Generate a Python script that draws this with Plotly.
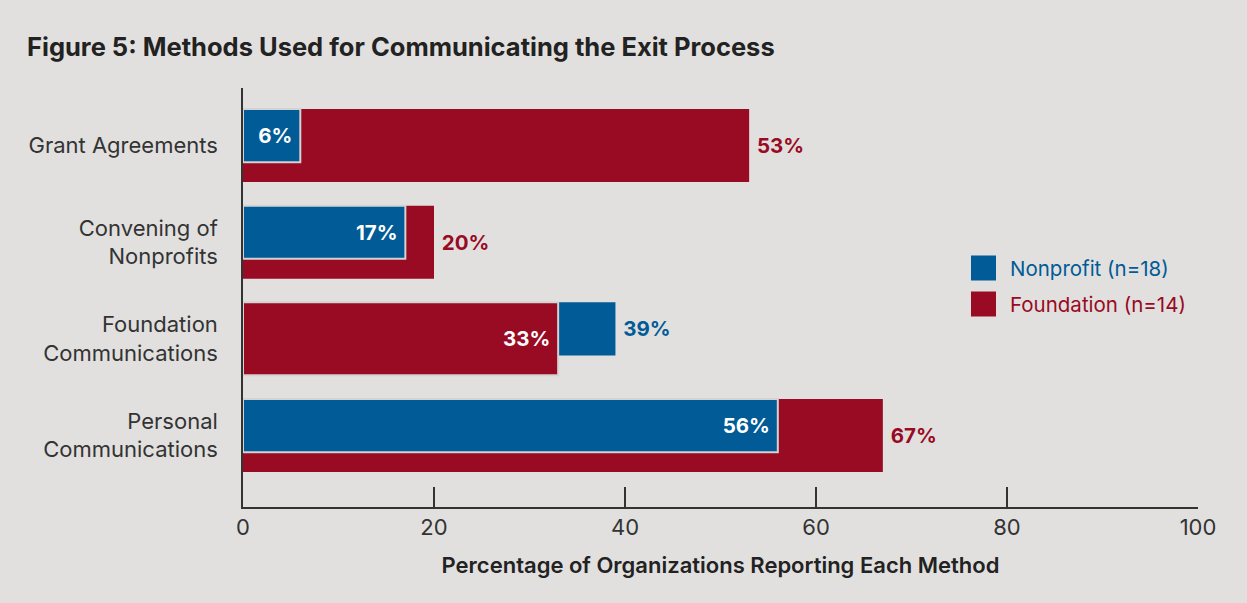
import plotly.graph_objects as go

# Survey results: share of organizations reporting each exit-communication method
categories = ["Grant Agreements", "Convening of<br>Nonprofits",
              "Foundation<br>Communications", "Personal<br>Communications"]
nonprofit = [6, 17, 39, 56]
foundation = [53, 20, 33, 67]
x_ticks = [0, 20, 40, 60, 80, 100]

BLUE = "#005b96"
RED = "#990a23"
BG = "#e1e0df"
INK = "#333333"
FONT = "Inter"
NBSP = "\u00a0"

WIDE_W, NARROW_W = 0.755, 0.55
OFFSET = -0.3775

# The shorter bar of each pair sits in front and carries its label inside;
# the longer one sits behind with its label outside the bar end.
np_front = [n < f for n, f in zip(nonprofit, foundation)]


def pick(vals, mask):
    return [v if m else None for v, m in zip(vals, mask)]


def labels(vals, mask, inside):
    pad = NBSP
    return [((f"{v}%" + pad) if inside else (pad + f"{v}%")) if m else ""
            for v, m in zip(vals, mask)]


np_back_mask = [not m for m in np_front]
fd_back_mask = np_front
fd_front_mask = np_back_mask
np_front_mask = np_front

fig = go.Figure()

common = dict(orientation="h", y=categories, hoverinfo="skip",
              showlegend=False, textangle=0, cliponaxis=False,
              constraintext="none")
VAL_SIZE = 20.5

# back layer
fig.add_trace(go.Bar(x=pick(nonprofit, np_back_mask), width=NARROW_W, offset=OFFSET,
                     marker=dict(color=BLUE, line=dict(width=0)),
                     text=labels(nonprofit, np_back_mask, False), textposition="outside",
                     outsidetextfont=dict(color=BLUE, size=VAL_SIZE, family=FONT, weight="bold"),
                     **common))
fig.add_trace(go.Bar(x=pick(foundation, fd_back_mask), width=WIDE_W, offset=OFFSET,
                     marker=dict(color=RED, line=dict(width=0)),
                     text=labels(foundation, fd_back_mask, False), textposition="outside",
                     outsidetextfont=dict(color=RED, size=VAL_SIZE, family=FONT, weight="bold"),
                     **common))
# front layer
fig.add_trace(go.Bar(x=pick(foundation, fd_front_mask), width=WIDE_W, offset=OFFSET,
                     marker=dict(color=RED, line=dict(width=2, color="#d4d3d2")),
                     text=labels(foundation, fd_front_mask, True), textposition="inside",
                     insidetextanchor="end",
                     insidetextfont=dict(color="white", size=VAL_SIZE, family=FONT, weight="bold"),
                     **common))
fig.add_trace(go.Bar(x=pick(nonprofit, np_front_mask), width=NARROW_W, offset=OFFSET,
                     marker=dict(color=BLUE, line=dict(width=2, color="#d4d3d2")),
                     text=labels(nonprofit, np_front_mask, True), textposition="inside",
                     insidetextanchor="end",
                     insidetextfont=dict(color="white", size=VAL_SIZE, family=FONT, weight="bold"),
                     **common))

# plot area in pixels: x 243..1198, y 88..507
L, R, T, B = 243, 1198, 88, 507
W, H = 1247, 603


def px(xp):
    return (xp - L) / (R - L)


def py(yp):
    return (B - yp) / (B - T)


legend_items = [("Nonprofit (n=18)", BLUE, 268), ("Foundation (n=14)", RED, 304)]
shapes = []
annotations = []
for name, color, yc in legend_items:
    shapes.append(dict(type="rect", xref="paper", yref="paper",
                       x0=px(971), x1=px(996), y0=py(yc + 12.5), y1=py(yc - 12.5),
                       fillcolor=color, line=dict(width=0)))
    annotations.append(dict(xref="paper", yref="paper", x=px(1008), y=py(yc),
                            xanchor="left", yanchor="middle", showarrow=False,
                            text=name, font=dict(color=color, size=20.5, family=FONT)))

fig.update_layout(
    width=W, height=H,
    margin=dict(l=L, r=W - R, t=T, b=H - B, pad=0),
    paper_bgcolor=BG, plot_bgcolor=BG,
    barmode="overlay",
    font=dict(family=FONT, color=INK, size=22),
    title=dict(text="Figure 5: Methods Used for Communicating the Exit Process",
               x=27 / W, xanchor="left", xref="container",
               y=1 - 47 / H, yanchor="middle", yref="container",
               font=dict(size=25.5, family=FONT, color="#222222", weight="bold")),
    xaxis=dict(range=[0, 100], tickvals=x_ticks, ticks="inside", ticklen=20,
               tickwidth=1.5, tickcolor=INK, showgrid=False, zeroline=False,
               showline=True, linecolor=INK, linewidth=1.5,
               tickfont=dict(size=22, color=INK),
               title=dict(text="Percentage of Organizations Reporting Each Method",
                          font=dict(size=22, color="#222222", weight=600), standoff=18)),
    yaxis=dict(type="category", range=[3.74, -0.595], showgrid=False, zeroline=False,
               showline=True, linecolor=INK, linewidth=1.5, ticks="",
               ticklabelstandoff=19, tickfont=dict(size=22, color=INK)),
    shapes=shapes,
    annotations=annotations,
)

fig.write_html("out.html")
